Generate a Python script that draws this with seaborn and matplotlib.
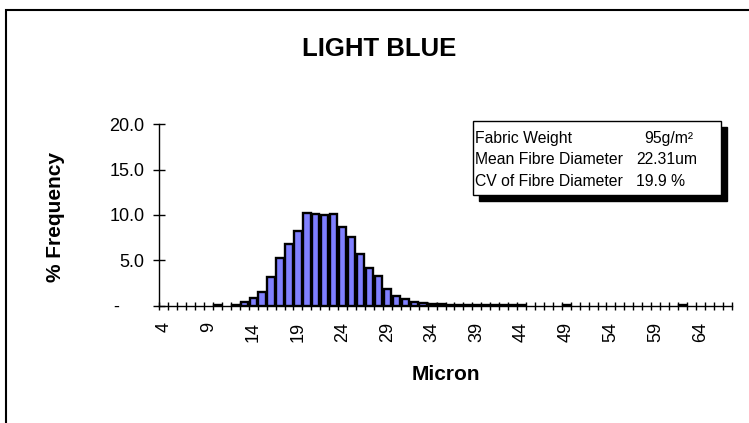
import matplotlib
matplotlib.use('Agg')
import pandas as pd
import matplotlib.pyplot as plt
import seaborn as sns
from matplotlib.patches import Rectangle
from matplotlib.ticker import FixedLocator, FuncFormatter

# data
microns = list(range(4, 68))
frequency = [
    0, 0, 0, 0, 0, 0, 0.08, 0, 0.1, 0.37,          # 4-13
    0.8, 1.47, 3.1, 5.2, 6.85, 8.25, 10.2, 10.07, 9.96, 10.15,  # 14-23
    8.7, 7.6, 5.7, 4.2, 3.27, 1.84, 1.05, 0.78, 0.44, 0.3,      # 24-33
    0.22, 0.15, 0.12, 0.1, 0.08, 0.08, 0.06, 0.05, 0.04, 0.05,  # 34-43
    0.05, 0, 0, 0, 0, 0.04, 0, 0, 0, 0,                          # 44-53
    0, 0, 0, 0, 0, 0, 0, 0, 0.03, 0,                             # 54-63
    0, 0, 0, 0,                                                  # 64-67
]
label_every = 5
y_ticks = [0, 5, 10, 15, 20]

title = 'LIGHT BLUE'
info_labels = ['Fabric Weight', 'Mean Fibre Diameter', 'CV of Fibre Diameter']
info_values = ['95g/m²', '22.31um', '19.9 %']

df = pd.DataFrame({'Micron': [str(m) for m in microns], 'Frequency': frequency})

sns.set_style('white')
plt.rcParams['font.family'] = ['Liberation Sans', 'DejaVu Sans']
plt.rcParams.update({'text.color': 'black', 'axes.labelcolor': 'black',
                     'xtick.color': 'black', 'ytick.color': 'black'})

W, H = 749, 423
fig = plt.figure(figsize=(W / 100, H / 100), dpi=100)


def fx(px):
    return px / W


def fy(py):
    return 1 - py / H


ax = fig.add_axes([fx(159.3), fy(305.6), fx(731.7) - fx(159.3), fy(124.3) - fy(305.6)])
ax.set_facecolor('white')
sns.barplot(data=df, x='Micron', y='Frequency', order=list(df['Micron']),
            color='#8080ff', saturation=1, edgecolor='black', linewidth=1.7,
            width=0.82, ax=ax)
for p in ax.patches:
    if p.get_height() == 0:
        p.set_visible(False)

ax.set_xlim(-0.5, len(microns) - 0.5)
ax.set_ylim(0, 20)
for s in ['top', 'right']:
    ax.spines[s].set_visible(False)
for s in ['left', 'bottom']:
    ax.spines[s].set_color('black')
    ax.spines[s].set_linewidth(1)

# Excel accounting style: zero shown as a dash set in from the right
ax.set_yticks(y_ticks)
ax.yaxis.set_major_formatter(FuncFormatter(lambda v, pos: '-     ' if v == 0 else f'{v:.1f}'))
ax.tick_params(axis='y', direction='inout', length=9, width=1,
               labelsize=13, pad=6, left=True)

major_pos = list(range(0, len(microns), label_every))
ax.xaxis.set_major_locator(FixedLocator(major_pos))
ax.set_xticklabels([str(microns[i]) for i in major_pos], rotation=90, va='top')
ax.xaxis.set_minor_locator(FixedLocator([i - 0.5 for i in range(len(microns) + 1)]))
ax.tick_params(axis='x', which='major', length=0, labelsize=13, pad=11.5)
ax.tick_params(axis='x', which='minor', direction='inout', length=6, width=1, bottom=True)

ax.set_xlabel('Micron', fontsize=15, weight='bold', va='center')
ax.xaxis.set_label_coords((446 - 159.3) / 572.4, (305.6 - 374) / 181.3)
ax.set_ylabel('% Frequency', fontsize=15, weight='bold', va='center')
ax.yaxis.set_label_coords((56 - 159.3) / 572.4, (305.6 - 216.5) / 181.3)

fig.text(fx(379), fy(49), title, ha='center', va='center', fontsize=18.5, weight='bold')

# info box with drop shadow
bx0, by0, bx1, by1 = 472.7, 121, 720.7, 195
fig.add_artist(Rectangle((fx(bx0 + 6), fy(by1 + 6)), fx(bx1) - fx(bx0), fy(by0) - fy(by1),
                         transform=fig.transFigure, facecolor='black', edgecolor='black'))
fig.add_artist(Rectangle((fx(bx0), fy(by1)), fx(bx1) - fx(bx0), fy(by0) - fy(by1),
                         transform=fig.transFigure, facecolor='white', edgecolor='black', lw=1))
baselines = [143.3, 164.3, 185.7]
value_x = [644, 636.7, 635.7]
for lab, val, b, vx in zip(info_labels, info_values, baselines, value_x):
    fig.text(fx(474.5), fy(b), lab, ha='left', va='baseline', fontsize=11.3)
    fig.text(fx(vx), fy(b), val, ha='left', va='baseline', fontsize=11.3)

# chart frame (left and top edges visible)
fig.add_artist(Rectangle((fx(6), -0.2), 1.5, fy(10) + 0.2, transform=fig.transFigure,
                         fill=False, edgecolor='black', lw=1.5))

fig.savefig('out.png', dpi=100)
